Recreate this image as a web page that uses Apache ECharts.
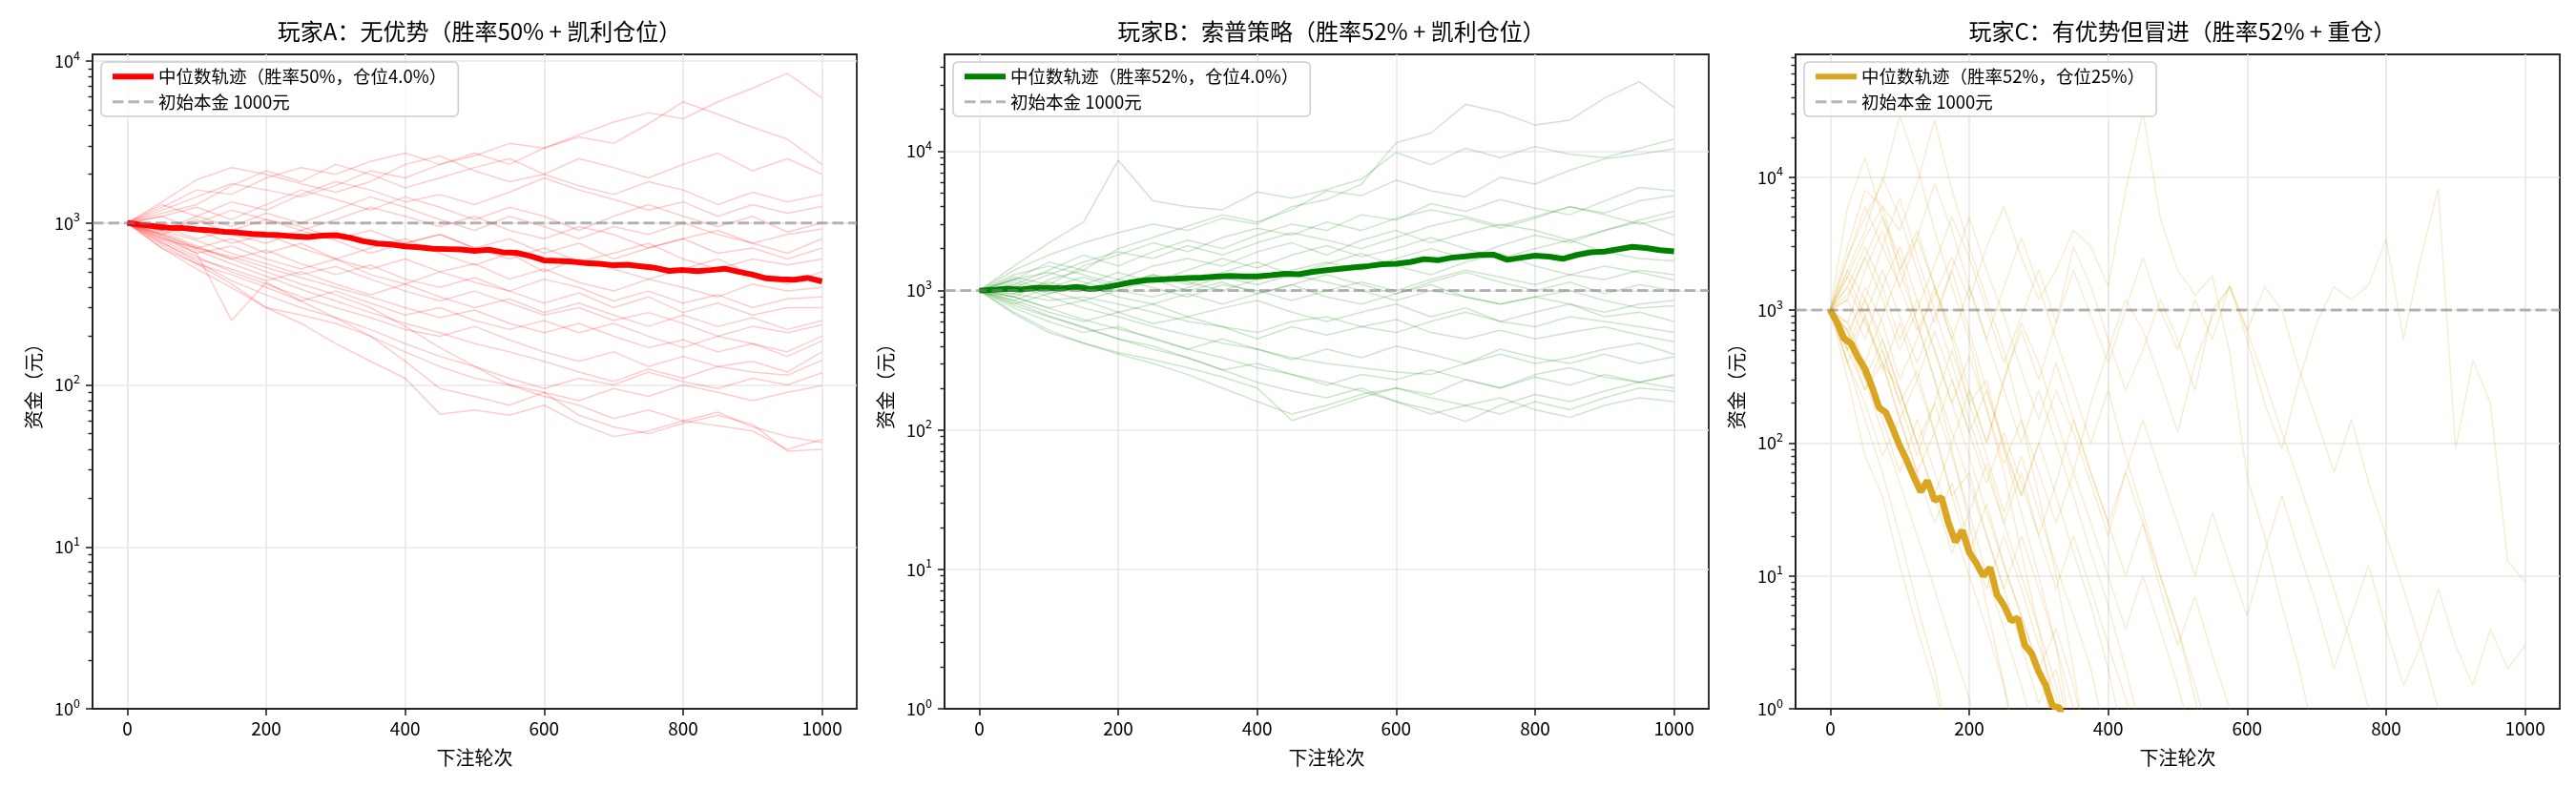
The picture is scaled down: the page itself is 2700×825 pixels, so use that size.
<!DOCTYPE html>
<html>
<head>
<meta charset="utf-8">
<script src="https://cdn.jsdelivr.net/npm/echarts@6/dist/echarts.min.js"></script>
<style>
html,body{margin:0;padding:0;background:#fff}
#chart{width:2700px;height:825px}
</style>
</head>
<body>
<div id="chart"></div>
<script>
var FONT = '"Noto Sans CJK SC", "Noto Sans", sans-serif';

// ---- text ----
var titles = [
  '玩家A：无优势（胜率50% + 凯利仓位）',
  '玩家B：索普策略（胜率52% + 凯利仓位）',
  '玩家C：有优势但冒进（胜率52% + 重仓）'
];
var medianNames = [
  '中位数轨迹（胜率50%，仓位4.0%）',
  '中位数轨迹（胜率52%，仓位4.0%）',
  '中位数轨迹（胜率52%，仓位25%）'
];
var initName = '初始本金 1000元';
var xName = '下注轮次';
var yName = '资金（元）';

// ---- ticks ----
var xTicks = [0, 200, 400, 600, 800, 1000];
var yMajor = [1, 10, 100, 1000, 10000];
var minorMultipliers = [2, 3, 4, 5, 6, 7, 8, 9];
var yMax = [11000, 49500, 84000];
var initCapital = 1000;

// ---- median trajectories (A/B every 20 rounds, C every 10 rounds) ----
var medianA = [1000,975,955,935,930,912,900,882,872,856,846,840,828,818,836,842,812,772,748,738,
  718,708,694,690,686,672,684,660,655,625,588,584,578,565,560,548,552,540,528,506,
  512,505,512,522,500,480,455,450,446,458,436];
var medianB = [1000,1012,1030,1018,1045,1048,1040,1062,1025,1052,1100,1150,1188,1200,1215,1232,1240,1258,1272,1264,
  1262,1290,1322,1310,1362,1400,1432,1470,1500,1545,1560,1602,1682,1650,1722,1762,1800,1812,1662,1722,
  1780,1752,1690,1802,1880,1902,1982,2060,2022,1952,1910];
var medianC = [1000,800,610,560,440,360,265,185,170,128,95,74,56,43,52,37,39,25,18,22,
  15,12.5,10,11.5,7.2,6,4.6,4.8,3,2.6,1.9,1.5,1.05,1.02,0.6];

// ---- sample paths, player A (every 50 rounds) ----
var pathsA = [
  [1000,1250,1600,1500,1900,2200,2000,2400,2700,2300,2600,3100,2900,3500,4200,4800,4400,5600,6800,8400,5900],
  [1000,1200,1450,1750,1600,1450,1700,2100,1900,2300,2700,2300,2900,3400,3100,4100,5600,4700,3900,3300,2300],
  [1000,1350,1850,2200,2000,1750,1550,1800,2300,2600,2100,1800,2000,2500,2200,1900,2300,2700,2100,2500,2000],
  [1000,1150,1300,1700,2100,1800,2300,2000,1650,1900,2200,2500,2000,1700,1500,1800,1600,1300,1550,1350,1500],
  [1000,900,1100,1350,1200,1500,1800,1600,1350,1500,1300,1550,1900,1600,1400,1200,1350,1100,1300,1150,1270],
  [1000,1100,1250,1050,1300,1600,1400,1200,1450,1250,1050,1250,1100,900,1100,1300,1100,950,1100,880,1000],
  [1000,1300,1100,950,1150,1000,1200,1450,1250,1050,900,1100,950,800,950,850,1000,850,750,850,920],
  [1000,850,1000,1200,1050,900,1050,1250,1100,950,1100,900,800,950,850,700,800,900,750,650,800],
  [1000,950,800,900,1050,950,800,900,750,850,700,800,650,750,600,700,800,650,700,600,700],
  [1000,900,1050,850,750,900,780,650,750,850,700,600,700,580,650,750,600,520,600,550,600],
  [1000,800,700,800,650,750,600,700,800,650,550,650,500,600,520,450,520,600,480,420,500],
  [1000,1100,900,750,850,700,600,520,600,500,560,450,520,430,380,450,400,350,420,380,400],
  [1000,800,650,720,600,520,600,480,420,500,430,380,450,400,330,380,320,360,300,340,350],
  [1000,850,700,600,680,560,480,550,450,400,460,380,320,370,300,350,280,320,270,300,300],
  [1000,750,600,520,440,500,420,360,420,350,300,340,280,320,270,230,270,230,260,220,250],
  [1000,900,780,650,560,480,540,450,380,330,380,320,270,300,250,280,240,200,230,210,235],
  [1000,700,560,480,400,330,380,320,270,300,250,220,250,210,240,200,170,200,180,160,200],
  [1000,850,700,620,530,460,400,350,300,260,290,240,210,240,200,170,190,160,180,150,187],
  [1000,780,620,500,420,350,300,260,220,200,230,190,160,140,160,130,150,130,140,120,160],
  [1000,820,680,560,470,390,330,280,240,210,180,160,140,120,105,125,110,130,120,115,142],
  [1000,760,580,440,360,300,260,220,180,150,130,110,95,110,100,120,105,95,110,100,119],
  [1000,700,520,400,300,270,240,200,160,130,110,100,90,80,95,85,100,90,80,90,99],
  [1000,880,720,600,500,420,360,300,230,170,130,100,85,75,62,70,60,68,55,48,44],
  [1000,730,560,420,300,240,180,140,110,66,70,65,75,58,48,52,60,56,52,40,46],
  [1000,830,650,250,430,330,260,200,140,95,85,75,90,65,55,50,58,65,57,39,40]
];

// ---- sample paths, player B (every 50 rounds) ----
var pathsB = [
  [1000,1400,1800,2200,2600,3000,2700,3300,3000,4000,4500,5800,11500,13500,21700,19000,15400,16700,24000,31500,20600],
  [1000,1500,2200,3100,8600,4400,4000,3800,5100,4600,5300,6300,9800,8000,10500,9000,10800,9500,9000,10500,12200],
  [1000,1200,1600,1400,2000,2400,2900,3500,3100,3800,5200,4800,6200,5200,4700,6500,5800,7300,8800,9500,10400],
  [1000,1100,1400,1800,1500,1900,2300,2000,2500,3000,2700,3500,3200,4200,3700,4500,3900,3500,4400,5500,5200],
  [1000,1250,1100,1500,1800,2200,1900,2400,2800,2500,3100,2700,3300,3800,3400,2900,3400,4000,3500,3000,3400],
  [1000,900,1200,1400,1200,1500,1700,1500,1900,2200,1800,2300,2700,2200,2600,3000,2700,2300,2700,3100,2500],
  [1000,1150,950,1100,1350,1150,1400,1700,1450,1800,2100,1750,2000,2400,2000,1700,2000,2300,1900,1700,1630],
  [1000,850,1050,1250,1050,1300,1100,1350,1600,1300,1550,1850,1500,1300,1600,1850,1500,1300,1500,1350,1190],
  [1000,1200,1000,850,1000,1200,1000,1150,950,1100,1300,1100,950,1150,1350,1150,1000,1150,950,1100,1000],
  [1000,800,950,1100,900,800,950,800,950,1100,900,800,950,1100,900,800,900,1000,850,750,780],
  [1000,900,750,850,700,800,650,750,850,700,600,700,800,650,750,600,700,800,650,700,600],
  [1000,850,700,600,700,580,650,550,450,550,480,550,620,500,450,520,450,500,550,480,430],
  [1000,750,600,500,550,450,380,450,380,320,380,330,400,350,300,380,330,300,350,300,335],
  [1000,780,650,550,450,380,330,270,300,250,210,250,230,270,230,200,240,210,250,220,245],
  [1000,700,520,420,350,300,250,200,160,130,150,180,200,170,150,130,160,140,170,200,190],
  [1000,820,660,540,450,400,330,270,220,190,170,200,160,130,150,170,140,123,150,170,160],
  [1000,900,750,620,530,460,380,330,280,250,220,190,160,140,115,150,180,160,190,220,250],
  [1000,680,500,420,360,320,280,240,200,117,140,170,200,180,230,200,250,280,240,220,200],
  [1000,1100,900,750,650,550,480,420,380,330,300,280,260,250,300,350,300,330,380,420,350],
  [1000,950,850,900,800,700,600,550,500,600,650,550,500,600,700,600,550,650,600,550,500],
  [1000,1300,1500,1300,1100,1300,1150,1000,1200,1400,1600,1400,1700,2000,1700,2100,2500,2200,2700,3200,3700],
  [1000,1050,1300,1600,1900,1700,2100,1800,2200,2600,2300,2000,2400,2900,3300,2800,3300,4000,3600,4400,4800],
  [1000,950,1150,1000,1200,1050,900,1100,1000,850,1000,1150,1000,1200,1400,1250,1100,1300,1200,1400,1300],
  [1000,1200,1350,1150,1000,900,1050,1250,1100,1300,1150,1000,850,1000,900,800,900,800,700,800,850]
];

// ---- sample paths, player C (every 25 rounds, stop once below 1) ----
var pathsC = [
  [1000,6000,14000,5000,2500,800,300,90,25,6,1.5,0.3],
  [1000,2500,5000,9000,29000,12000,4000,1500,600,180,60,15,4,0.8,0.2],
  [1000,1800,3500,6000,4000,9000,27000,8000,3000,1200,500,150,40,10,2,0.3],
  [1000,3000,8000,6000,2000,3500,1500,600,200,300,90,30,10,3,0.5],
  [1000,400,150,60,20,6,2,0.4],
  [1000,600,300,120,50,20,8,3,1.2,0.3],
  [1000,300,80,40,12,4,1.5,0.4],
  [1000,1500,800,400,250,100,40,15,30,10,4,1.5,0.5],
  [1000,700,1200,500,200,350,120,40,60,20,8,3,1.1,2,0.5],
  [1000,2000,1200,3000,1500,700,1300,2500,1200,3000,6000,2500,1200,2000,4000,3000,1500,8000,31000,4900,2000,1300,1800,480,55,20,6,2,0.5],
  [1000,600,1500,800,300,600,1500,700,250,100,300,800,400,150,60,200,500,1200,700,300,120,400,900,1500,600,200,90,300,800,1500,1200,1550,3450,600,2500,8200,90,420,200,13,9],
  [1000,500,900,400,150,300,700,300,120,250,90,40,100,250,120,50,20,60,150,60,25,10,30,12,5,15,40,15,6,2,5,12,4,1.5,3,8,3,1.5,4,2,3],
  [1000,1300,2500,1200,500,1000,2200,5000,2500,1000,400,900,2000,800,3000,1500,600,250,500,1200,600,250,1000,1500,700,1500,1000,350,150,60,150,50,20,8,3,1,0.3],
  [1000,800,2000,4000,1500,3500,9000,4000,1500,600,1500,3500,1500,600,250,100,250,80,30,10,4,1.2,0.3],
  [1000,600,250,400,150,60,120,40,15,35,12,5,2,4,1.5,0.4],
  [1000,400,200,80,150,60,25,50,18,8,20,8,3,1.2,0.4],
  [1000,1200,600,1500,3000,1200,500,200,450,180,70,150,60,25,60,25,10,4,10,4,1.5,0.5],
  [1000,700,300,600,250,100,200,80,30,70,25,60,20,50,150,60,25,10,25,8,3,7,2.5,1,0.3],
  [1000,2500,6000,3000,7000,2500,1000,400,150,60,25,10,4,1.5,0.4],
  [1000,500,1200,600,250,100,40,100,250,100,300,700,300,800,2000,900,400,1000,2500,1000,500,1200,600,1550,700,300,120,50,20,8,3,1,0.3],
  [1000,1500,3000,1500,600,1200,500,200,80,30,12,5,2,0.6],
  [1000,800,400,900,2000,800,300,120,50,20,8,20,8,3,1,0.3],
  [1000,2000,4000,10000,5000,2000,800,2000,700,250,100,40,100,40,15,6,2,0.5],
  [1000,500,250,500,200,80,200,500,200,80,30,80,30,12,5,2,0.5],
  [1000,1200,2500,5000,2000,4000,1500,600,1500,600,250,100,250,100,40,15,6,2,0.6],
  [1000,700,350,150,60,150,60,25,10,4,1.5,0.4],
  [1000,1800,900,2000,900,400,900,2000,5000,2000,900,350,150,400,150,60,25,60,25,10,4,1.5,0.5],
  [1000,400,900,350,800,300,120,300,120,50,120,50,20,8,20,8,3,1.2,0.4]
];

var panels = [
  {paths: pathsA, pathStep: 50, median: medianA, medianStep: 20, color: '#ff0000', pathOpacity: 0.2, pathWidth: 1.5, medianWidth: 6},
  {paths: pathsB, pathStep: 50, median: medianB, medianStep: 20, color: '#008000', pathOpacity: 0.2, pathWidth: 1.5, medianWidth: 6},
  {paths: pathsC, pathStep: 25, median: medianC, medianStep: 10, color: '#daa520', pathOpacity: 0.2, pathWidth: 1.5, medianWidth: 7}
];

var gridLefts = [97, 990, 1882];
var gridW = 801, gridTop = 57, gridH = 686;
var AXIS = '#222222';

function toXY(values, step) {
  return values.map(function (v, i) { return [i * step, v]; });
}

function minorTicks(max) {
  var out = [];
  yMajor.forEach(function (d) {
    minorMultipliers.forEach(function (m) {
      if (d * m < max) out.push(d * m);
    });
  });
  return out;
}

var grids = [], xAxes = [], yAxes = [], series = [], legends = [], titleList = [];

panels.forEach(function (p, k) {
  grids.push({
    left: gridLefts[k], top: gridTop, width: gridW, height: gridH,
    show: true, borderColor: AXIS, borderWidth: 1.8, backgroundColor: 'transparent'
  });

  titleList.push({
    text: titles[k], left: gridLefts[k] + gridW / 2, top: 16, textAlign: 'center',
    textStyle: {fontFamily: FONT, fontSize: 24, fontWeight: 'normal', color: '#000'}
  });

  xAxes.push({
    gridIndex: k, type: 'value', min: -50, max: 1050,
    name: xName, nameLocation: 'middle', nameGap: 41,
    nameTextStyle: {fontFamily: FONT, fontSize: 20, color: '#000'},
    axisLine: {show: true, onZero: false, lineStyle: {color: AXIS, width: 1.8}},
    axisTick: {show: true, length: 7, customValues: xTicks, lineStyle: {color: AXIS, width: 1.6}},
    axisLabel: {
      customValues: xTicks, fontFamily: FONT, fontSize: 19, color: '#000', margin: 11,
      formatter: function (v) { return String(v); }
    },
    splitLine: {show: true, lineStyle: {color: '#e8e8e8', width: 1.6}}
  });

  yAxes.push({
    gridIndex: k, type: 'log', logBase: 10, min: 1, max: yMax[k], position: 'left',
    name: yName, nameLocation: 'middle', nameGap: 52, nameRotate: 90,
    nameTextStyle: {fontFamily: FONT, fontSize: 20, color: '#000'},
    axisLine: {show: true, onZero: false, lineStyle: {color: AXIS, width: 1.8}},
    axisTick: {show: true, length: 7, customValues: yMajor, lineStyle: {color: AXIS, width: 1.6}},
    axisLabel: {
      customValues: yMajor, margin: 13,
      formatter: function (v) {
        return '{b|10}{e|' + Math.round(Math.log10(v)) + '}';
      },
      rich: {
        b: {fontFamily: FONT, fontSize: 18, color: '#000', lineHeight: 25},
        e: {fontFamily: FONT, fontSize: 12.5, color: '#000', verticalAlign: 'top'}
      }
    },
    splitLine: {show: true, lineStyle: {color: '#e8e8e8', width: 1.6}}
  });
  // minor log ticks at 2..9 x 10^n
  yAxes.push({
    gridIndex: k, type: 'log', logBase: 10, min: 1, max: yMax[k], position: 'left',
    axisLine: {show: false, onZero: false},
    axisTick: {show: true, length: 4.5, customValues: minorTicks(yMax[k]), lineStyle: {color: AXIS, width: 1.4}},
    axisLabel: {show: false},
    splitLine: {show: false}
  });

  p.paths.forEach(function (vals, j) {
    series.push({
      name: 'path' + k + '_' + j, type: 'line', xAxisIndex: k, yAxisIndex: 2 * k,
      data: toXY(vals, p.pathStep), symbol: 'none', silent: true, z: 2,
      lineStyle: {color: p.color, width: p.pathWidth, opacity: p.pathOpacity}
    });
  });
  series.push({
    name: medianNames[k], type: 'line', xAxisIndex: k, yAxisIndex: 2 * k,
    data: toXY(p.median, p.medianStep), symbol: 'none', silent: true, z: 3,
    itemStyle: {color: p.color},
    lineStyle: {color: p.color, width: p.medianWidth}
  });
  series.push({
    name: initName, type: 'line', xAxisIndex: k, yAxisIndex: 2 * k,
    data: [[-50, initCapital], [1050, initCapital]], symbol: 'none', silent: true, z: 4,
    itemStyle: {color: '#9a9a9a'},
    lineStyle: {color: '#808080', opacity: 0.55, width: 3, type: [11.5, 5]}
  });

  legends.push({
    left: gridLefts[k] + 9, top: gridTop + 8, orient: 'vertical',
    itemWidth: 43, itemHeight: 14, itemGap: 8,
    padding: [6, 12, 6, 9],
    borderColor: '#cccccc', borderWidth: 1.5, borderRadius: 5,
    backgroundColor: 'rgba(255,255,255,0.8)',
    selectedMode: false,
    textStyle: {fontFamily: FONT, fontSize: 18.5, color: '#000'},
    data: [
      {name: medianNames[k], lineStyle: {width: 6}, itemStyle: {opacity: 0}},
      {name: initName, lineStyle: {width: 3, color: '#b5b5b5', opacity: 1}, itemStyle: {opacity: 0}}
    ]
  });
});

var chart = echarts.init(document.getElementById('chart'), null, {renderer: 'canvas'});
chart.setOption({
  animation: false,
  backgroundColor: '#ffffff',
  textStyle: {fontFamily: FONT},
  title: titleList,
  legend: legends,
  grid: grids,
  xAxis: xAxes,
  yAxis: yAxes,
  series: series
});
</script>
</body>
</html>
